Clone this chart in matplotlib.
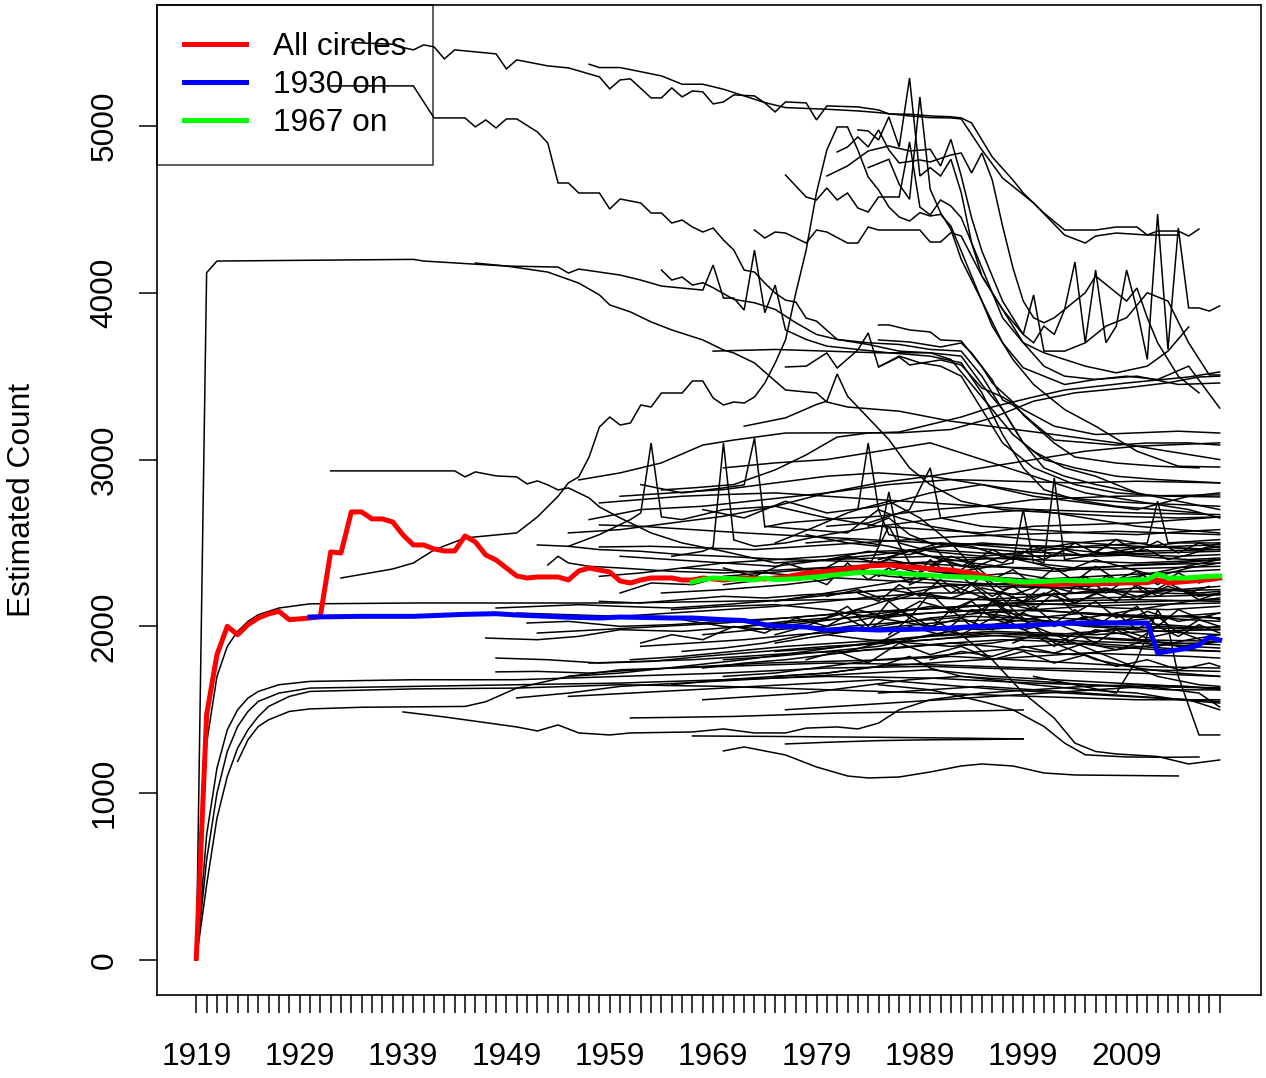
import numpy as np
import matplotlib
matplotlib.use('Agg')
import matplotlib.pyplot as plt

plt.rcParams['font.family'] = ['Liberation Sans', 'DejaVu Sans']

# ---- x axis: one tick per year, a label every ten years
years = list(range(1919, 2019))
year_labels = [str(y) if (y - 1919) % 10 == 0 and y < 2018 else '' for y in years]
count_ticks = [0, 1000, 2000, 3000, 4000, 5000]

# ---- summary lines (mean counts)
red_all = {1919: 10, 1920: 1470, 1921: 1830, 1922: 2000, 1923: 1950, 1924: 2010, 1925: 2050,
           1926: 2075, 1927: 2090, 1928: 2040, 1929: 2045, 1930: 2050, 1931: 2060, 1932: 2446,
           1933: 2440, 1934: 2686, 1935: 2686, 1936: 2644, 1937: 2644, 1938: 2626, 1939: 2548,
           1940: 2488, 1941: 2488, 1942: 2464, 1943: 2452, 1944: 2452, 1945: 2542, 1946: 2506,
           1947: 2428, 1948: 2398, 1949: 2350, 1950: 2302, 1951: 2290, 1952: 2296, 1953: 2296,
           1954: 2296, 1955: 2278, 1956: 2332, 1957: 2350, 1958: 2338, 1959: 2326, 1960: 2272,
           1961: 2260, 1962: 2278, 1963: 2290, 1964: 2290, 1965: 2290, 1966: 2278, 1967: 2278,
           1968: 2290, 1970: 2278, 1972: 2290, 1974: 2284, 1976: 2296, 1978: 2320, 1980: 2330,
           1982: 2345, 1984: 2362, 1986: 2368, 1988: 2355, 1990: 2345, 1992: 2338, 1994: 2320,
           1996: 2290, 1998: 2265, 2000: 2258, 2002: 2250, 2004: 2258, 2006: 2255, 2008: 2260,
           2011: 2262, 2012: 2278, 2013: 2260, 2015: 2270, 2017: 2280, 2018: 2290}
blue_1930 = {1930: 2056, 1935: 2060, 1940: 2060, 1945: 2072, 1948: 2076, 1950: 2068, 1955: 2055,
             1958: 2050, 1960: 2056, 1965: 2050, 1967: 2050, 1970: 2040, 1972: 2035, 1974: 2010,
             1975: 2002, 1978: 1996, 1980: 1978, 1982: 1985, 1985: 1978, 1990: 1985, 1992: 1990,
             1994: 1998, 1996: 2002, 1998: 2000, 2000: 2008, 2003: 2018, 2005: 2020, 2011: 2020,
             2012: 1840, 2013: 1850, 2014: 1860, 2015: 1870, 2016: 1888, 2017: 1936, 2018: 1918}
green_1967 = {1967: 2266, 1968: 2280, 1969: 2290, 1971: 2285, 1973: 2278, 1974: 2290, 1975: 2280,
              1977: 2285, 1979: 2296, 1981: 2310, 1983: 2322, 1985: 2326, 1987: 2318, 1989: 2310,
              1991: 2300, 1993: 2296, 1995: 2290, 1997: 2278, 1999: 2266, 2001: 2270, 2003: 2275,
              2005: 2272, 2007: 2276, 2009: 2278, 2011: 2280, 2012: 2314, 2013: 2290, 2015: 2290,
              2016: 2296, 2017: 2300, 2018: 2302}

# ---- individual circles, grouped roughly by level
early_circles = [
    {1919: 0, 1920: 4120, 1921: 4190, 1940: 4200, 1941: 4190, 1949: 4160, 1953: 4124, 1956: 4058,
     1958: 3987, 1959: 3927, 1961: 3885, 1963: 3825, 1965: 3777, 1968: 3717, 1970: 3657, 1971: 3639,
     1973: 3579, 1976: 3417, 1979: 3399, 1980: 3345, 1982: 3315, 1987: 3290, 1992: 3230, 1997: 3190,
     2002: 3150, 2008: 3100, 2013: 3050, 2018: 3000},
    {1919: 0, 1920: 1300, 1921: 1700, 1922: 1880, 1923: 1970, 1924: 2030, 1925: 2070, 1927: 2110,
     1930: 2135, 1940: 2140, 1950: 2140, 1960: 2140, 1970: 2150, 1980: 2160, 1990: 2170, 2000: 2150,
     2010: 2160, 2018: 2150},
    {1919: 0, 1920: 750, 1921: 1150, 1922: 1380, 1923: 1500, 1924: 1570, 1925: 1610, 1927: 1650,
     1930: 1670, 1940: 1680, 1950: 1680, 1955: 1690, 1960: 1700, 1970: 1720, 1980: 1750, 1990: 1760,
     2000: 1740, 2010: 1720, 2018: 1700},
    {1919: 0, 1920: 600, 1921: 1000, 1922: 1250, 1923: 1400, 1924: 1490, 1925: 1550, 1927: 1600,
     1930: 1630, 1940: 1640, 1950: 1650, 1960: 1660, 1970: 1680, 1980: 1700, 1990: 1690, 2000: 1660,
     2010: 1640, 2018: 1630},
    {1919: 0, 1920: 450, 1921: 850, 1922: 1100, 1923: 1270, 1924: 1380, 1925: 1460, 1926: 1520,
     1928: 1580, 1930: 1610, 1940: 1625, 1950: 1630, 1960: 1650, 1970: 1640, 1980: 1620, 1990: 1600,
     2000: 1580, 2010: 1560, 2018: 1560},
    {1923: 1190, 1924: 1320, 1925: 1400, 1926: 1440, 1928: 1490, 1930: 1505, 1935: 1515, 1945: 1520,
     1947: 1548, 1950: 1630, 1955: 1700, 1960: 1740, 1970: 1760, 1980: 1780, 1990: 1770, 2000: 1750,
     2010: 1740, 2018: 1730},
]

high_circles = [
    {1934: 5500, 1938: 5490, 1939: 5470, 1940: 5456, 1941: 5486, 1942: 5474, 1943: 5402, 1944: 5456,
     1948: 5432, 1949: 5342, 1950: 5396, 1953: 5360, 1955: 5348, 1958: 5294, 1959: 5222, 1960: 5276,
     1961: 5282, 1963: 5168, 1964: 5168, 1965: 5228, 1966: 5174, 1967: 5210, 1968: 5204, 1969: 5132,
     1970: 5144, 1971: 5186, 1973: 5180, 1974: 5138, 1975: 5084, 1976: 5144, 1978: 5138, 1979: 5036,
     1980: 5120, 1983: 5114, 1985: 5096, 1986: 5072, 1988: 5070, 1990: 5060, 1992: 5055, 1993: 5048,
     1994: 5018, 1996: 4814, 1998: 4676, 1999: 4598, 2001: 4478, 2003: 4376, 2006: 4376, 2008: 4394,
     2010: 4394, 2011: 4346, 2012: 4370, 2014: 4370, 2015: 4340, 2016: 4382},
    {1957: 5370, 1958: 5350, 1960: 5350, 1964: 5300, 1966: 5250, 1968: 5250, 1970: 5220, 1972: 5180,
     1974: 5140, 1976: 5110, 1980: 5100, 1983: 5090, 1985: 5080, 1988: 5060, 1990: 5050, 1992: 5048,
     1993: 5042, 1995: 4856, 1997: 4688, 2000: 4538, 2003: 4346, 2005: 4298, 2006: 4340, 2008: 4358,
     2011: 4346, 2014: 4346},
    {1932: 5240, 1940: 5240, 1942: 5048, 1945: 5048, 1946: 4994, 1947: 5036, 1948: 4988, 1949: 5042,
     1950: 5042, 1952: 4964, 1953: 4898, 1954: 4658, 1955: 4658, 1956: 4598, 1958: 4598, 1959: 4502,
     1960: 4562, 1962: 4538, 1963: 4478, 1964: 4478, 1965: 4418, 1966: 4436, 1967: 4394, 1968: 4364,
     1969: 4388, 1970: 4316, 1971: 4256, 1972: 4136, 1973: 4124, 1974: 4058, 1975: 3998, 1976: 3956,
     1977: 3944, 1978: 3848, 1979: 3830, 1981: 3720, 1984: 3690, 1987: 3650, 1990: 3640, 1992: 3600,
     1994: 3450, 1996: 3300, 1998: 3150, 2000: 3050, 2003: 2950, 2006: 2900, 2010: 2800, 2014: 2750,
     2018: 2700},
    {1946: 4178, 1949: 4160, 1954: 4154, 1955: 4118, 1956: 4142, 1958: 4124, 1960: 4106, 1962: 4076,
     1964: 4040, 1968: 4016, 1969: 4166, 1970: 3968, 1971: 3968, 1972: 3896, 1973: 4256, 1974: 3880,
     1975: 4046, 1976: 3777, 1978: 3720, 1980: 3680, 1983: 3660, 1986: 3640, 1990: 3620, 1993: 3580,
     1995: 3400, 1997: 3150, 1999: 2950, 2001: 2820, 2004: 2760, 2008: 2720, 2012: 2700, 2016: 2680},
    {1964: 4136, 1965: 4076, 1966: 4094, 1967: 4046, 1968: 4060, 1969: 4030, 1971: 3960, 1973: 3940,
     1975: 3900, 1977: 3820, 1979: 3750, 1981: 3720, 1984: 3700, 1987: 3690, 1990: 3660, 1993: 3650,
     1995: 3500, 1997: 3300, 1999: 3100, 2001: 3000, 2004: 2950, 2008: 2900, 2012: 2880, 2018: 2860},
    {1969: 3650, 1975: 3660, 1980: 3650, 1985: 3640, 1990: 3640, 1993: 3620, 1995: 3450, 1997: 3300,
     1999: 3100, 2001: 2950, 2003: 2900, 2006: 2850, 2010: 2800},
    {1973: 4376, 1974: 4328, 1975: 4364, 1976: 4358, 1978: 4298, 1979: 4376, 1980: 4364, 1982: 4298,
     1983: 4298, 1984: 4394, 1985: 4376, 1989: 4376, 1990: 4304, 1991: 4304, 1992: 4360, 1993: 4340,
     1995: 4100, 1997: 3900, 1999: 3700, 2001: 3560, 2003: 3500, 2006: 3480, 2010: 3500, 2014: 3450,
     2018: 3459},
    {1976: 4706, 1978: 4574, 1979: 4556, 1980: 4628, 1981: 4556, 1982: 4598, 1983: 4508, 1984: 4484,
     1985: 4574, 1987: 4574, 1988: 4904, 1989: 4514, 1990: 4466, 1991: 4556, 1992: 4520, 1993: 4450,
     1995: 4150, 1997: 3850, 1999: 3700, 2001: 3640, 2003: 3600, 2005: 3560, 2008: 3520, 2011: 3560,
     2013: 3650, 2015: 3795},
    {1933: 2290, 1938: 2344, 1940: 2380, 1942: 2458, 1945: 2530, 1948: 2548, 1950: 2560, 1952: 2656,
     1954: 2780, 1955: 2860, 1956: 2896, 1957: 3015, 1958: 3195, 1959: 3255, 1960: 3207, 1961: 3219,
     1962: 3327, 1963: 3315, 1964: 3399, 1966: 3399, 1967: 3471, 1968: 3471, 1969: 3369, 1970: 3327,
     1971: 3345, 1972: 3339, 1973: 3375, 1974: 3459, 1975: 3579, 1976: 3717, 1977: 3999, 1978: 4256,
     1979: 4600, 1980: 4856, 1981: 4994, 1982: 4994, 1983: 4856, 1984: 4694, 1985: 4616, 1986: 4514,
     1987: 4454, 1988: 4430, 1989: 4480, 1990: 4460, 1991: 4470, 1992: 4400, 1994: 4100, 1996: 3800,
     1998: 3600, 2000: 3450, 2003: 3300, 2006: 3200, 2010: 3050, 2014: 2960, 2018: 2955},
    {1983: 4976, 1984: 4970, 1985: 4916, 1986: 5054, 1987: 4874, 1988: 5287, 1989: 4700, 1990: 4750,
     1991: 4700, 1992: 4800, 1993: 4600, 1994: 4300, 1995: 4100, 1997: 3900, 1999: 3750, 2000: 3700,
     2001: 3800, 2002: 3750, 2003: 3900, 2004: 4184, 2005: 3700, 2006: 4136, 2007: 3700, 2008: 3800,
     2009: 4136, 2010: 3900, 2011: 3600, 2012: 4472, 2013: 3660, 2014: 4388, 2015: 3909, 2016: 3909,
     2017: 3890, 2018: 3921},
    {1981: 4844, 1982: 4874, 1983: 4934, 1984: 4874, 1985: 4976, 1986: 4856, 1987: 4778, 1989: 4796,
     1990: 4784, 1992: 4826, 1993: 4838, 1994: 4718, 1995: 4838, 1996: 4676, 1997: 4400, 1998: 4150,
     1999: 3950, 2000: 3850, 2001: 3820, 2002: 3850, 2003: 3900, 2005: 4000, 2006: 4100, 2007: 4050,
     2009: 3950, 2010: 4028, 2011: 3850, 2012: 3700, 2013: 3600, 2014: 3500, 2016: 3400},
    {1980: 4700, 1982: 4760, 1984: 4850, 1986: 4880, 1988: 4850, 1990: 4860, 1991: 4760, 1992: 4920,
     1993: 4700, 1994: 4450, 1995: 4250, 1997: 3950, 1999: 3750, 2000: 3987, 2001: 3650, 2003: 3650,
     2005: 3700, 2007: 3800, 2009: 3850, 2011: 4000, 2013: 3950, 2015: 3700, 2017: 3507, 2018: 3507},
    {1984: 4750, 1986: 4800, 1987: 4650, 1988: 4560, 1989: 5174, 1990: 4620, 1991: 4480, 1992: 4380,
     1993: 4200, 1995: 3950, 1997: 3700, 1999: 3550, 2001: 3500, 2003: 3450, 2006: 3480, 2009: 3500,
     2012: 3480, 2015: 3560, 2018: 3309},
    {1985: 3807, 1986: 3807, 1988: 3777, 1990: 3765, 1991: 3717, 1993: 3711, 1995: 3555, 1996: 3459,
     1998: 3345, 1999: 3267, 2002: 3099, 2004: 3015, 2008: 2979, 2012: 2960, 2016: 2950},
    {1985: 3717, 1988: 3705, 1991: 3675, 1993: 3699, 1994: 3639, 1996: 3477, 1997: 3357, 1998: 3327,
     2000: 3219, 2002: 3117, 2008: 3087, 2011: 3099, 2015: 3100, 2018: 3087},
    {1985: 3555, 1987: 3615, 1988: 3567, 1991: 3597, 1993: 3567, 1995: 3429, 1997: 3375, 1999: 3300,
     2002: 3200, 2006: 3150, 2010: 3160, 2014: 3170, 2018: 3159},
    {1976: 3555, 1978: 3560, 1980: 3639, 1981: 3549, 1983: 3657, 1984: 3759, 1985: 3555, 1987: 3620,
     1989: 3580, 1991: 3560, 1993: 3500, 1995: 3300, 1997: 3100, 2000: 2950, 2004: 2850, 2008: 2800,
     2013: 2780, 2018: 2776},
    {1956: 2878, 1960: 2920, 1964: 2980, 1968: 3087, 1971: 3117, 1976: 3159, 1981: 3160, 1987: 3160,
     1992: 3180, 1996: 3250, 2000: 3350, 2004: 3400, 2009: 3430, 2013: 3460, 2016: 3495, 2018: 3500},
    {1964: 2818, 1967: 2830, 1971: 2850, 1975: 2938, 1978: 3028, 1981: 3135, 1984: 3159, 1987: 3165,
     1990: 3210, 1993: 3255, 1996: 3315, 2000: 3375, 2003: 3417, 2009: 3459, 2015: 3495, 2018: 3525},
    {1972: 3200, 1976: 3250, 1979: 3330, 1980: 3350, 1981: 3513, 1982: 3380, 1984: 3250, 1986: 3120,
     1988: 2950, 1990: 2850, 1993: 2750, 1997: 2700, 2002: 2680, 2008: 2660, 2014: 2650, 2018: 2656},
    {1932: 2932, 1944: 2932, 1945: 2896, 1946: 2926, 1948: 2902, 1950: 2896, 1951: 2854, 1952: 2872,
     1953: 2848, 1954: 2818, 1955: 2830, 1957: 2770, 1958: 2716, 1960: 2650, 1963: 2560, 1966: 2500,
     1970: 2450, 1975: 2380, 1980: 2400, 1990: 2420, 2000: 2400, 2010: 2380, 2018: 2400},
]

upper_band = [
    {1957: 2640, 1962: 2700, 1968: 2720, 1974: 2760, 1980: 2800, 1986: 2850, 1992: 2880, 1998: 2870,
     2004: 2860, 2010: 2870, 2018: 2860},
    {1960: 2780, 1965: 2800, 1970: 2820, 1975: 2860, 1980: 2900, 1985: 2920, 1990: 2900, 1995: 2850,
     2000: 2800, 2005: 2760, 2010: 2740, 2018: 2720},
    {1968: 2700, 1972: 2650, 1976: 2750, 1980: 2680, 1985: 2720, 1990: 2800, 1995: 2850, 2000: 2780,
     2005: 2740, 2010: 2700, 2015: 2780, 2018: 2800},
    {1955: 2480, 1958: 2550, 1961: 2640, 1962: 2680, 1963: 3099, 1964: 2656, 1966: 2640, 1970: 2700,
     1975: 2720, 1980: 2650, 1985: 2600, 1990: 2580, 1995: 2560, 2000: 2600, 2010: 2620, 2018: 2656},
    {1965: 2420, 1968: 2450, 1969: 2476, 1970: 3099, 1971: 2518, 1973: 2480, 1976: 2500, 1980: 2550,
     1985: 2600, 1990: 2640, 1995: 2680, 2000: 2700, 2005: 2650, 2010: 2600, 2018: 2560},
    {1962: 2850, 1966: 2800, 1970: 2830, 1972: 2848, 1973: 3129, 1974: 2596, 1976: 2620, 1980: 2640,
     1985: 2660, 1990: 2700, 1995: 2720, 2000: 2760, 2008: 2780, 2018: 2788},
    {1975: 2500, 1979: 2600, 1982: 2680, 1983: 2700, 1984: 3099, 1985: 2700, 1987: 2650, 1990: 2600,
     1995: 2550, 2000: 2520, 2005: 2500, 2010: 2480, 2018: 2460},
    {1985: 2400, 1988: 2450, 1991: 2500, 1994: 2480, 1997: 2420, 2000: 2400, 2001: 2380, 2002: 2890,
     2003: 2400, 2005: 2420, 2008: 2450, 2011: 2480, 2014: 2500, 2018: 2500},
    {1955: 2560, 1960: 2580, 1965: 2620, 1970: 2660, 1975: 2720, 1980: 2800, 1985: 2860, 1990: 2900,
     1995: 2950, 2000: 3000, 2005: 3050, 2010: 3080, 2018: 3100},
    {1970: 2950, 1975: 2980, 1980: 3000, 1985: 3050, 1990: 3100, 1995: 3000, 2000: 2900, 2005: 2800,
     2010: 2750, 2015: 2700, 2018: 2650},
    {1958: 2740, 1962: 2760, 1966: 2780, 1970: 2790, 1975: 2800, 1980: 2780, 1985: 2760, 1990: 2740,
     1995: 2720, 2000: 2700, 2005: 2690, 2010: 2680, 2018: 2670},
    {1958: 2608, 1962: 2600, 1967: 2580, 1972: 2560, 1978: 2540, 1984: 2520, 1990: 2500, 1996: 2490,
     2002: 2480, 2008: 2470, 2014: 2480, 2018: 2490},
    {1958: 2476, 1963: 2480, 1968: 2470, 1973: 2460, 1978: 2480, 1983: 2500, 1988: 2520, 1993: 2540,
     1998: 2550, 2003: 2560, 2008: 2570, 2013: 2560, 2018: 2550},
    {1952: 2488, 1955: 2480, 1958: 2460, 1962: 2450, 1966: 2430, 1970: 2420, 1976: 2400, 1982: 2390,
     1988: 2380, 1994: 2400, 2000: 2420, 2006: 2430, 2012: 2440, 2018: 2450},
    {1953: 2368, 1954: 2420, 1955: 2380, 1957: 2360, 1960: 2350, 1965: 2330, 1970: 2320, 1976: 2340,
     1982: 2360, 1988: 2380, 1994: 2360, 2000: 2350, 2006: 2340, 2012: 2350, 2018: 2360},
    {1978: 2550, 1982: 2500, 1985: 2480, 1986: 2806, 1987: 2500, 1990: 2450, 1995: 2420, 2000: 2450,
     2005: 2480, 2011: 2500, 2012: 2750, 2013: 2500, 2018: 2520},
    {1974: 2600, 1978: 2580, 1982: 2560, 1985: 2700, 1986: 2550, 1990: 2500, 1994: 2470, 1998: 2450,
     2002: 2440, 2006: 2420, 2010: 2430, 2014: 2420, 2018: 2430},
    {1980: 2600, 1984: 2620, 1988: 2700, 1990: 2950, 1991: 2650, 1995: 2600, 2000: 2580, 2005: 2560,
     2010: 2550, 2015: 2570, 2018: 2580},
    {1984: 2600, 1986: 2650, 1988: 2550, 1990: 2500, 1993: 2300, 1996: 2150, 2000: 2000, 2004: 1900,
     2008: 1800, 2012: 1700, 2016: 1650, 2018: 1640},
    {1983: 2700, 1986: 2750, 1989: 2650, 1992: 2500, 1995: 2300, 1998: 2100, 2002: 1900, 2006: 1800,
     2010: 1750, 2014: 1720, 2018: 1700},
]

mid_band = [
    {1958: 2300, 1962: 2320, 1966: 2350, 1970: 2380, 1975: 2400, 1980: 2420, 1985: 2450, 1990: 2460,
     1995: 2440, 2000: 2420, 2005: 2430, 2010: 2450, 2018: 2460},
    {1960: 2420, 1965: 2400, 1970: 2380, 1975: 2360, 1980: 2400, 1985: 2430, 1990: 2470, 1995: 2500,
     2000: 2480, 2005: 2450, 2010: 2420, 2015: 2400, 2018: 2410},
    {1964: 2200, 1970: 2220, 1976: 2250, 1980: 2280, 1984: 2350, 1986: 2600, 1988: 2380, 1990: 2330,
     1995: 2300, 2000: 2280, 2006: 2300, 2012: 2320, 2018: 2340},
    {1975: 2150, 1980: 2200, 1985: 2250, 1990: 2300, 1995: 2350, 1998: 2380, 1999: 2700, 2000: 2380,
     2004: 2350, 2008: 2360, 2012: 2370, 2018: 2380},
    {1980: 2400, 1984: 2450, 1988: 2430, 1992: 2500, 1996: 2480, 2000: 2460, 2004: 2500, 2008: 2520,
     2012: 2480, 2016: 2460, 2018: 2500},
    {1966: 2350, 1972: 2330, 1978: 2300, 1984: 2280, 1990: 2260, 1996: 2240, 2002: 2230, 2008: 2250,
     2014: 2270, 2018: 2290},
    {1970: 2250, 1974: 2280, 1978: 2300, 1982: 2330, 1986: 2400, 1990: 2350, 1994: 2300, 1998: 2320,
     2002: 2280, 2006: 2260, 2010: 2300, 2014: 2350, 2018: 2400},
    {1978: 2500, 1982: 2520, 1986: 2480, 1990: 2420, 1994: 2380, 1998: 2350, 2002: 2330, 2006: 2350,
     2010: 2370, 2014: 2380, 2018: 2400},
    {1960: 2200, 1963: 2260, 1967: 2250, 1970: 2300, 1974: 2320, 1980: 2350, 1986: 2300, 1990: 2280,
     1994: 2260, 2000: 2240, 2006: 2220, 2012: 2200, 2018: 2190},
    {1985: 2300, 1987: 2350, 1989: 2320, 1991: 2400, 1993: 2360, 1995: 2420, 1997: 2380, 1999: 2450,
     2001: 2400, 2003: 2460, 2005: 2420, 2007: 2480, 2009: 2440, 2011: 2460, 2013: 2400, 2015: 2430,
     2017: 2470, 2018: 2480},
    {1983: 2200, 1985: 2150, 1987: 2250, 1989: 2180, 1991: 2280, 1993: 2200, 1995: 2300, 1997: 2220,
     1999: 2260, 2001: 2240, 2003: 2280, 2005: 2220, 2007: 2300, 2009: 2260, 2011: 2320, 2013: 2250,
     2015: 2300, 2017: 2280},
    {1950: 2080, 1955: 2070, 1960: 2060, 1965: 2080, 1970: 2100, 1975: 2120, 1980: 2150, 1985: 2180,
     1990: 2200, 1995: 2200, 2000: 2190, 2005: 2200, 2010: 2210, 2018: 2220},
    {1952: 1960, 1958: 1980, 1964: 2000, 1970: 2020, 1976: 2050, 1982: 2080, 1988: 2100, 1994: 2120,
     2000: 2130, 2006: 2140, 2012: 2150, 2018: 2160},
    {1965: 2100, 1970: 2120, 1975: 2130, 1980: 2100, 1985: 2050, 1990: 2000, 1995: 1980, 2000: 2000,
     2005: 2050, 2010: 2100, 2015: 2150, 2018: 2170},
    {1972: 2000, 1976: 2030, 1980: 2050, 1984: 2120, 1988: 2200, 1992: 2250, 1996: 2150, 2000: 2100,
     2004: 2080, 2008: 2060, 2012: 2050, 2016: 2070, 2018: 2080},
    {1980: 2180, 1983: 2220, 1986: 2150, 1989: 2200, 1992: 2170, 1995: 2230, 1998: 2190, 2001: 2250,
     2004: 2200, 2007: 2230, 2010: 2180, 2013: 2220, 2016: 2200, 2018: 2210},
    {1968: 1950, 1973: 1980, 1978: 2020, 1983: 2060, 1988: 2100, 1993: 2120, 1998: 2140, 2003: 2130,
     2008: 2110, 2013: 2100, 2018: 2120},
    {1985: 2050, 1990: 2080, 1995: 2100, 2000: 2060, 2005: 2040, 2010: 2020, 2015: 2000, 2018: 1990},
    {1975: 1900, 1980: 1950, 1985: 2000, 1990: 2050, 1995: 2080, 2000: 2100, 2005: 2120, 2010: 2130,
     2018: 2140},
    {1958: 2150, 1962: 2140, 1966: 2160, 1970: 2180, 1974: 2170, 1978: 2190, 1982: 2200, 1986: 2220,
     1990: 2180, 1994: 2160, 1998: 2170, 2002: 2190, 2006: 2210, 2010: 2230, 2014: 2220, 2018: 2240},
    {1947: 1930, 1952: 1920, 1956: 1940, 1960: 1980, 1966: 1970, 1972: 2000, 1978: 2030, 1984: 2060,
     1990: 2080, 1996: 2100, 2002: 2090, 2008: 2070, 2014: 2060, 2018: 2050},
    {1951: 2020, 1955: 2030, 1960: 2000, 1965: 2010, 1970: 2030, 1976: 2050, 1982: 2080, 1988: 2100,
     1994: 2120, 2000: 2150, 2006: 2170, 2012: 2180, 2018: 2190},
    {1948: 2110, 1952: 2120, 1956: 2130, 1960: 2120, 1965: 2110, 1970: 2130, 1976: 2160, 1982: 2200,
     1988: 2230, 1994: 2250, 2000: 2260, 2006: 2270, 2012: 2280, 2018: 2300},
    {1980: 2050, 1982: 2120, 1984: 2000, 1986: 2150, 1988: 2050, 1990: 2200, 1992: 2080, 1994: 2150,
     1996: 2050, 1998: 2180, 2000: 2100, 2002: 2200, 2004: 2080, 2006: 2150, 2008: 2050, 2010: 2120,
     2012: 2000, 2014: 2100, 2016: 2050, 2018: 2080},
    {1970: 2350, 1973: 2300, 1976: 2380, 1979: 2320, 1982: 2420, 1985: 2380, 1988: 2460, 1991: 2400,
     1994: 2350, 1997: 2420, 2000: 2380, 2003: 2330, 2006: 2400, 2009: 2350, 2012: 2300, 2015: 2350,
     2018: 2380},
    {1988: 2250, 1990: 2300, 1992: 2200, 1994: 2260, 1996: 2180, 1998: 2240, 2000: 2160, 2002: 2220,
     2004: 2140, 2006: 2200, 2008: 2150, 2010: 2250, 2012: 2180, 2014: 2230, 2016: 2160, 2018: 2200},
    {1990: 2000, 1993: 2050, 1996: 1980, 1999: 2080, 2002: 2000, 2005: 2060, 2008: 2010, 2011: 2090,
     2014: 2030, 2017: 2060, 2018: 2040},
    {1965: 2050, 1970: 2000, 1975: 1980, 1980: 2000, 1985: 2060, 1990: 2120, 1995: 2080, 2000: 2040,
     2005: 2000, 2010: 1980, 2015: 1960, 2018: 1950},
    {1962: 1900, 1965: 1950, 1968: 1920, 1971: 2000, 1974: 1960, 1977: 2050, 1980: 2000, 1983: 2100,
     1986: 2050, 1989: 2150, 1992: 2100, 1995: 2180, 1998: 2120, 2001: 2200, 2004: 2140, 2007: 2220,
     2010: 2160, 2013: 2240, 2016: 2180, 2018: 2200},
    {1978: 2300, 1980: 2250, 1982: 2380, 1984: 2280, 1986: 2350, 1988: 2260, 1990: 2400, 1992: 2300,
     1994: 2380, 1996: 2280, 1998: 2340, 2000: 2250, 2002: 2350, 2004: 2270, 2006: 2360, 2008: 2280,
     2010: 2330, 2012: 2250, 2014: 2320, 2016: 2260, 2018: 2300},
    {1986: 1950, 1988: 2050, 1990: 1980, 1992: 2100, 1994: 2000, 1996: 2150, 1998: 2050, 2000: 2120,
     2002: 2020, 2004: 2100, 2006: 2000, 2008: 2080, 2010: 1980, 2012: 2060, 2014: 1960, 2016: 2040,
     2018: 2000},
    {1990: 2350, 1992: 2420, 1994: 2380, 1996: 2460, 1998: 2400, 2000: 2480, 2002: 2420, 2004: 2500,
     2006: 2440, 2008: 2520, 2010: 2450, 2012: 2510, 2014: 2440, 2016: 2500, 2018: 2470},
    {1995: 2100, 1997: 2200, 1999: 2150, 2001: 2250, 2003: 2180, 2005: 2300, 2007: 2200, 2009: 2280,
     2011: 2190, 2013: 2260, 2015: 2200, 2017: 2240},
]

low_band = [
    {1961: 1800, 1966: 1820, 1971: 1850, 1976: 1880, 1981: 1900, 1986: 1920, 1991: 1950, 1996: 1970,
     2001: 1960, 2006: 1950, 2011: 1970, 2018: 1980},
    {1962: 1880, 1967: 1900, 1972: 1920, 1977: 1950, 1982: 1970, 1987: 2000, 1992: 2030, 1997: 2040,
     2002: 2020, 2007: 2000, 2012: 1990, 2018: 1980},
    {1968: 1750, 1972: 1780, 1976: 1800, 1980: 1830, 1984: 1860, 1988: 1880, 1992: 1900, 1996: 1880,
     2000: 1850, 2004: 1830, 2008: 1860, 2012: 1890, 2016: 1900, 2018: 1910},
    {1975: 1850, 1980: 1870, 1985: 1900, 1990: 1920, 1995: 1950, 2000: 1930, 2005: 1910, 2010: 1900,
     2015: 1880, 2018: 1870},
    {1955: 1700, 1960: 1720, 1966: 1760, 1972: 1800, 1978: 1850, 1984: 1900, 1990: 1940, 1996: 1960,
     2002: 1950, 2008: 1920, 2014: 1900, 2018: 1890},
    {1980: 1950, 1984: 1920, 1988: 1900, 1992: 1880, 1996: 1900, 2000: 1940, 2004: 1960, 2008: 1980,
     2012: 2000, 2016: 1990, 2018: 2000},
    {1957: 1780, 1962: 1790, 1967: 1800, 1972: 1820, 1977: 1840, 1982: 1850, 1987: 1870, 1992: 1900,
     1997: 1920, 2002: 1910, 2007: 1880, 2012: 1860, 2018: 1850},
    {1990: 1800, 1993: 1850, 1996: 1820, 1999: 1880, 2002: 1840, 2005: 1900, 2008: 1860, 2011: 1920,
     2014: 1880, 2017: 1900, 2018: 1910},
    {1970: 1700, 1975: 1720, 1980: 1760, 1985: 1800, 1990: 1820, 1995: 1850, 2000: 1880, 2005: 1900,
     2010: 1880, 2015: 1860, 2018: 1850},
    {1965: 1650, 1970: 1680, 1975: 1700, 1980: 1720, 1985: 1760, 1990: 1780, 1995: 1800, 2000: 1820,
     2005: 1840, 2010: 1830, 2015: 1820, 2018: 1810},
    {1975: 1950, 1978: 2000, 1981: 2080, 1984: 1980, 1987: 2100, 1990: 2000, 1993: 1950, 1996: 2050,
     1999: 1980, 2002: 2020, 2005: 1950, 2008: 1990, 2011: 1930, 2014: 1970, 2017: 1900, 2018: 1920},
    {1982: 1850, 1985: 1900, 1988: 2000, 1991: 1950, 1994: 2100, 1997: 2050, 2000: 1950, 2003: 1900,
     2006: 1980, 2009: 1950, 2012: 1880, 2015: 1920, 2018: 1950},
    {1978: 1800, 1981: 1850, 1984: 1780, 1987: 1900, 1990: 1830, 1993: 1880, 1996: 1800, 1999: 1850,
     2002: 1780, 2005: 1830, 2008: 1760, 2011: 1800, 2014: 1740, 2017: 1780, 2018: 1760},
    {1948: 1810, 1953: 1800, 1958: 1780, 1963: 1790, 1968: 1820, 1974: 1850, 1980: 1880, 1986: 1900,
     1992: 1930, 1998: 1950, 2004: 1940, 2010: 1920, 2018: 1910},
    {1948: 1727, 1952: 1730, 1957: 1720, 1962: 1740, 1968: 1760, 1974: 1780, 1980: 1790, 1986: 1800,
     1992: 1820, 1998: 1800, 2004: 1780, 2010: 1760, 2018: 1750},
    {1950: 1571, 1955: 1600, 1960: 1640, 1966: 1660, 1972: 1680, 1978: 1700, 1984: 1720, 1990: 1740,
     1996: 1700, 2002: 1680, 2008: 1660, 2014: 1640, 2018: 1630},
    {1966: 1850, 1970: 1870, 1974: 1900, 1978: 1950, 1982: 2000, 1986: 2020, 1990: 2040, 1994: 2060,
     1998: 2050, 2002: 2030, 2006: 2020, 2010: 2040, 2014: 2060, 2018: 2050},
    {1998: 1900, 2000: 1950, 2002: 1880, 2004: 1960, 2006: 1900, 2008: 1980, 2010: 1920, 2012: 2000,
     2014: 1940, 2016: 2010, 2018: 1960},
    {1970: 1800, 1975: 1820, 1980: 1850, 1985: 1880, 1990: 1950, 1995: 2000, 2000: 2050, 2005: 2080,
     2010: 2060, 2015: 2040, 2018: 2030},
    {1961: 1451, 1966: 1455, 1971: 1460, 1976: 1470, 1981: 1480, 1986: 1485, 1991: 1490, 1996: 1495,
     1999: 1499},
    {1976: 1500, 1981: 1520, 1986: 1540, 1991: 1560, 1996: 1580, 2001: 1600, 2006: 1620, 2011: 1640,
     2016: 1600, 2018: 1517},
    {1968: 1560, 1973: 1580, 1978: 1600, 1983: 1640, 1988: 1680, 1993: 1700, 1998: 1680, 2003: 1660,
     2008: 1640, 2013: 1620, 2018: 1619},
    {1955: 1580, 1961: 1600, 1967: 1620, 1973: 1640, 1979: 1660, 1985: 1680, 1991: 1650, 1997: 1620,
     2003: 1600, 2009: 1580, 2015: 1560, 2018: 1550},
    {1975: 1700, 1980: 1720, 1985: 1760, 1988: 1820, 1990: 1750, 1993: 1700, 1996: 1680, 2000: 1650,
     2005: 1620, 2010: 1600, 2014: 1560, 2018: 1540},
    {1985: 1600, 1990: 1620, 1995: 1640, 2000: 1620, 2005: 1600, 2010: 1580, 2015: 1560, 2018: 1500},
    {1939: 1487, 1943: 1457, 1950: 1397, 1952: 1373, 1954: 1409, 1956: 1361, 1959: 1349, 1961: 1361,
     1967: 1367, 1970: 1385, 1973: 1361, 1976: 1361, 1978: 1390, 1981: 1397, 1983: 1385, 1985: 1420,
     1987: 1500, 1990: 1560, 1995: 1600, 2000: 1620, 2005: 1640, 2010: 1650, 2015: 1640, 2018: 1620},
    {1970: 1253, 1972: 1277, 1976: 1229, 1979: 1157, 1982: 1103, 1984: 1091, 1987: 1097, 1990: 1127,
     1993: 1163, 1995: 1175, 1998: 1163, 2001: 1121, 2004: 1109, 2014: 1103},
    {1967: 1343, 1975: 1340, 1985: 1335, 1993: 1330, 1999: 1325},
    {1976: 1295, 1980: 1305, 1985: 1315, 1990: 1320, 1995: 1322, 1999: 1325},
    {1990: 2050, 1993: 1950, 1996: 1800, 1999: 1600, 2002: 1450, 2004: 1300, 2006: 1250, 2008: 1235,
     2012: 1220, 2015: 1175, 2018: 1199},
    {1985: 1650, 1990: 1620, 1995: 1550, 1998: 1500, 2001: 1400, 2003: 1300, 2005: 1230, 2009: 1217,
     2013: 1215, 2016: 1217},
    {2000: 1700, 2004: 1650, 2008: 1600, 2010: 1800, 2012: 2100, 2013: 2000, 2014: 1700, 2016: 1349,
     2018: 1349},
]


def draw_series(ax, series, **kw):
    yrs = sorted(series)
    ax.plot(yrs, [series[y] for y in yrs], **kw)


def main():
    fig = plt.figure(figsize=(12.66, 10.78), dpi=100)
    ax = fig.add_axes([157 / 1266, 83 / 1078, 1104 / 1266, 990 / 1078])

    for group in (early_circles, high_circles, upper_band, mid_band, low_band):
        for circle in group:
            draw_series(ax, circle, color='black', lw=1.1, solid_joinstyle='miter')

    draw_series(ax, red_all, color='#ff0000', lw=3.6, label='All circles')
    draw_series(ax, blue_1930, color='#0000ff', lw=3.6, label='1930 on')
    draw_series(ax, green_1967, color='#00ff00', lw=3.6, label='1967 on')

    ax.set_xlim(1915.2, 2022.0)
    ax.set_ylim(-210, 5725)

    ax.set_xticks(years)
    ax.set_xticklabels(year_labels)
    ax.set_yticks(count_ticks)
    ax.set_yticklabels([str(v) for v in count_ticks], rotation=90, va='center')
    ax.tick_params(axis='both', direction='out', length=13, width=1.1, labelsize=22.8)
    ax.tick_params(axis='x', pad=21)
    ax.tick_params(axis='y', pad=14)
    for spine in ax.spines.values():
        spine.set_linewidth(1.2)

    fig.text(22 / 1266, 0.5 + (1078 / 2 - 500) / 1078, 'Estimated Count', rotation=90,
             ha='center', va='center', fontsize=22.8)

    leg = ax.legend(loc='upper left', borderaxespad=0, fontsize=22.8, frameon=True,
                    fancybox=False, edgecolor='black', facecolor='none', framealpha=None,
                    handlelength=1.95, handletextpad=0.85, borderpad=0.85, labelspacing=0.25)
    leg.get_frame().set_linewidth(1.1)
    for line in leg.get_lines():
        line.set_linewidth(3.6)

    fig.savefig('out.png', dpi=100)


if __name__ == '__main__':
    main()
